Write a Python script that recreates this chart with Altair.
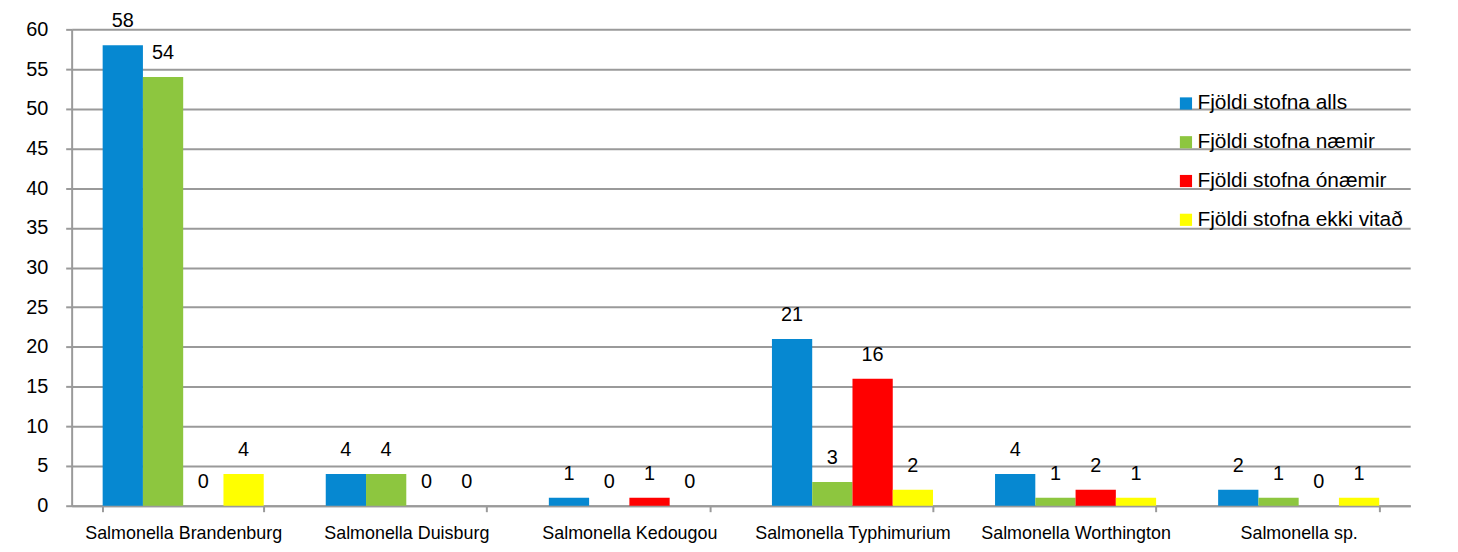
import altair as alt
import pandas as pd

categories = ["Salmonella Brandenburg", "Salmonella Duisburg", "Salmonella Kedougou",
              "Salmonella Typhimurium", "Salmonella Worthington", "Salmonella sp."]
series = ["Fjöldi stofna alls", "Fjöldi stofna næmir", "Fjöldi stofna ónæmir", "Fjöldi stofna ekki vitað"]
alls = [58, 4, 1, 21, 4, 2]
naemir = [54, 4, 0, 3, 1, 1]
onaemir = [0, 0, 1, 16, 2, 0]
ekki = [4, 0, 0, 2, 1, 1]
colors = ["#0688d1", "#8dc63f", "#ff0000", "#ffff00"]
y_ticks = list(range(0, 61, 5))

rows = []
for s, vals in zip(series, [alls, naemir, onaemir, ekki]):
    for c, v in zip(categories, vals):
        rows.append({"cat": c, "series": s, "value": v})
df = pd.DataFrame(rows)

FONT = "Liberation Sans"

x = alt.X("cat:N", sort=categories,
          scale=alt.Scale(paddingInner=0.278, paddingOuter=0.139),
          axis=alt.Axis(title=None, labelAngle=0, tickBand="extent", labelFontSize=18,
                        labelFont=FONT, labelColor="#000000", labelPadding=13,
                        labelLimit=400, domainColor="#9a9a9a", domainWidth=2,
                        tickColor="#9a9a9a", tickWidth=2, tickSize=6, grid=False))
xo = alt.XOffset("series:N", sort=series, scale=alt.Scale(paddingInner=0, paddingOuter=0))
y = alt.Y("value:Q", scale=alt.Scale(domain=[0, 60], nice=False),
          axis=alt.Axis(title=None, values=y_ticks, labelOverlap=False, labelFontSize=20,
                        labelFont=FONT, labelColor="#000000", labelPadding=18,
                        domainColor="#9a9a9a", domainWidth=2, tickColor="#9a9a9a",
                        tickWidth=2, tickSize=6, gridColor="#9a9a9a", gridWidth=2))

bars = alt.Chart(df).mark_bar().encode(
    x=x, xOffset=xo, y=y,
    color=alt.Color("series:N", sort=series,
                    scale=alt.Scale(domain=series, range=colors),
                    legend=alt.Legend(title=None, orient="none", legendX=1106, legendY=60,
                                      symbolType="square", symbolSize=150,
                                      symbolStrokeWidth=0, labelFontSize=21, labelFont=FONT,
                                      labelColor="#000000", labelOffset=1, rowPadding=17,
                                      padding=4, labelLimit=400)),
)

labels = alt.Chart(df).mark_text(dy=-24, baseline="middle", fontSize=20, font=FONT,
                                  color="#000000").encode(
    x=x, xOffset=xo, y=y, text="value:Q")

chart = alt.layer(bars, labels).properties(
    width=1346, height=479,
    autosize=alt.AutoSizeParams(type="none"),
    padding={"left": 64, "top": 20, "right": 40, "bottom": 37},
    background="#ffffff",
).configure_view(stroke=None)

chart.save("out.html", embed_options={"renderer": "svg", "actions": False})
